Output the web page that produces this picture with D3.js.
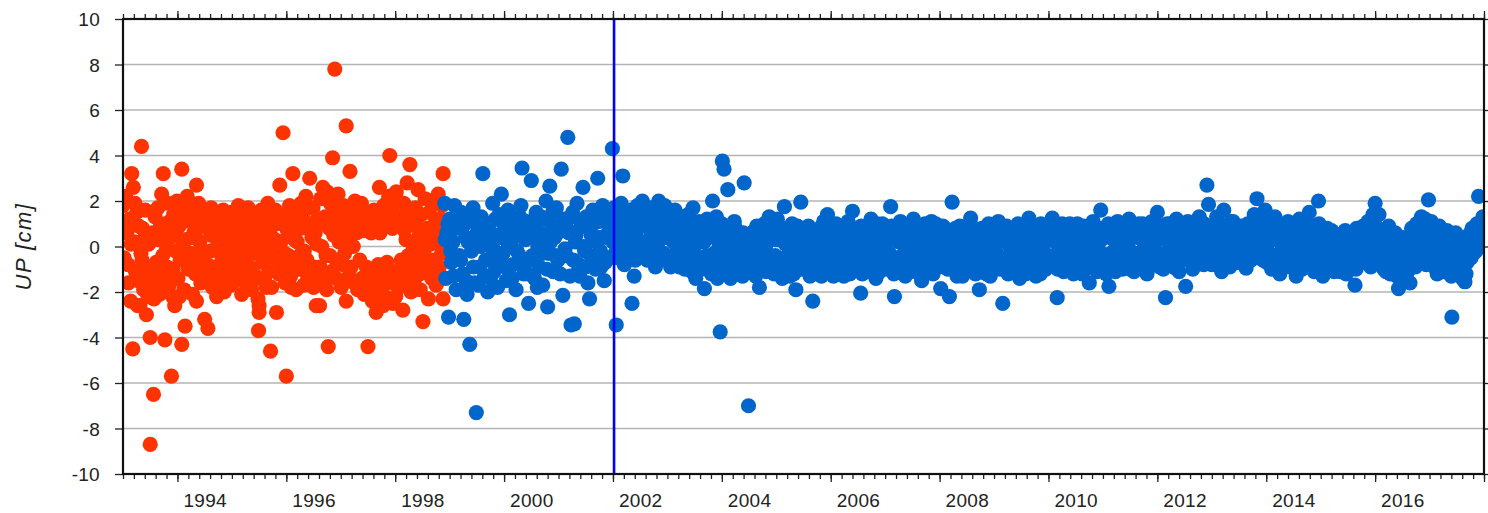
<!DOCTYPE html>
<html><head><meta charset="utf-8">
<script src="https://cdn.jsdelivr.net/npm/d3@7"></script>
<style>body{margin:0;background:#fff}svg{display:block}text{font-family:"Liberation Sans",Arial,sans-serif}</style>
</head><body><svg id="c" width="1488" height="513"></svg>
<script>
// ---- data (decimal year, UP in cm) ----
const redSeries = [
[1993.00,1.8],[1993.02,-0.5],[1993.05,2.2],[1993.07,0.6],[1993.10,-1.6],[1993.12,1.2],[1993.14,-2.4],[1993.16,3.2],[1993.18,-4.5],[1993.19,2.6],
[1993.21,0.2],[1993.23,-1.1],[1993.25,1.5],[1993.27,-2.6],[1993.29,0.9],[1993.31,-2.6],[1993.33,-0.3],[1993.34,4.4],[1993.36,0.8],[1993.38,-1.9],
[1993.40,0.4],[1993.42,-0.9],[1993.43,-3.0],[1993.45,-1.4],[1993.47,0.1],[1993.50,-4.0],[1993.50,-8.7],[1993.52,-1.8],[1993.54,0.6],[1993.56,-6.5],
[1993.57,-2.3],[1993.59,1.3],[1993.61,-0.7],[1993.63,-1.5],[1993.65,0.3],[1993.67,-2.1],[1993.69,1.0],[1993.71,2.3],[1993.73,-0.4],[1993.74,3.2],
[1993.76,-1.2],[1993.77,-4.1],[1993.79,0.7],[1993.81,-0.9],[1993.83,1.9],[1993.85,-1.7],[1993.87,0.4],[1993.89,-5.7],[1993.91,-2.2],[1993.93,1.4],
[1993.95,-2.6],[1993.97,-0.2],[1993.99,2.0],[1994.01,-1.4],[1994.03,0.9],[1994.05,-0.6],[1994.08,3.4],[1994.08,-4.3],[1994.10,1.6],[1994.12,-1.9],
[1994.14,-3.5],[1994.16,0.3],[1994.18,2.2],[1994.20,-1.0],[1994.22,1.1],[1994.24,-0.3],[1994.26,1.8],[1994.28,-2.1],[1994.30,0.6],[1994.32,1.3],
[1994.35,2.7],[1994.35,-2.4],[1994.37,-0.8],[1994.39,1.9],[1994.41,0.2],[1994.43,-1.6],[1994.45,1.5],[1994.47,-0.5],[1994.50,-3.2],[1994.52,0.9],
[1994.54,-1.3],[1994.56,-3.6],[1994.58,1.2],[1994.60,-0.2],[1994.62,1.7],[1994.64,-1.8],[1994.66,0.5],[1994.68,-0.9],[1994.70,1.4],[1994.72,-2.2],
[1994.74,0.1],[1994.76,1.0],[1994.78,-1.4],[1994.80,0.7],[1994.82,-0.6],[1994.84,1.6],[1994.86,-2.0],[1994.88,0.3],[1994.90,-1.1],[1994.92,1.2],
[1994.94,-0.4],[1994.96,0.8],[1994.98,-1.7],[1995.00,1.5],[1995.02,-0.8],[1995.04,0.4],[1995.06,-1.5],[1995.08,1.1],[1995.10,-0.1],[1995.12,1.8],
[1995.14,-1.2],[1995.16,0.6],[1995.18,-2.1],[1995.20,0.9],[1995.22,-0.5],[1995.24,1.3],[1995.26,-1.6],[1995.28,0.2],[1995.30,1.7],[1995.32,-0.9],
[1995.34,0.5],[1995.36,-1.9],[1995.38,1.0],[1995.40,-0.3],[1995.42,1.4],[1995.44,-1.3],[1995.46,0.7],[1995.48,-2.3],[1995.49,-3.7],[1995.50,-2.6],
[1995.50,-2.9],[1995.52,0.4],[1995.54,1.6],[1995.56,-0.7],[1995.58,0.9],[1995.60,-1.5],[1995.62,1.2],[1995.64,-0.2],[1995.66,1.9],[1995.68,-1.1],
[1995.70,0.6],[1995.71,-4.6],[1995.73,-1.8],[1995.75,1.4],[1995.77,-0.5],[1995.79,0.3],[1995.82,-2.9],[1995.84,1.0],[1995.86,-1.2],[1995.88,2.7],
[1995.90,0.2],[1995.92,-0.9],[1995.94,5.0],[1995.96,1.3],[1995.98,-1.6],[1996.00,-5.7],[1996.02,0.7],[1996.04,-0.4],[1996.06,1.8],[1996.08,-1.3],
[1996.10,0.5],[1996.12,3.2],[1996.14,-0.8],[1996.16,1.1],[1996.18,-1.9],[1996.20,0.2],[1996.22,1.6],[1996.24,-1.0],[1996.26,0.8],[1996.28,-0.3],
[1996.30,1.4],[1996.32,-1.7],[1996.34,0.9],[1996.36,2.2],[1996.38,-0.6],[1996.40,1.0],[1996.43,3.0],[1996.45,-1.4],[1996.47,0.4],[1996.49,1.7],
[1996.51,-0.9],[1996.53,0.6],[1996.55,-2.6],[1996.57,1.2],[1996.59,-1.2],[1996.61,-2.6],[1996.63,2.1],[1996.65,0.0],[1996.67,2.6],[1996.69,-1.5],
[1996.71,1.3],[1996.73,-0.4],[1996.75,2.4],[1996.77,-4.4],[1996.79,0.8],[1996.81,1.9],[1996.83,-1.1],[1996.85,3.9],[1996.87,0.5],[1996.89,7.8],
[1996.91,1.5],[1996.93,-0.7],[1996.95,2.3],[1996.97,0.2],[1996.99,1.1],[1997.01,-1.8],[1997.03,0.9],[1997.05,1.8],[1997.07,-0.3],[1997.10,5.3],
[1997.10,-2.4],[1997.12,1.4],[1997.14,0.4],[1997.17,3.3],[1997.19,-0.9],[1997.21,1.2],[1997.23,0.0],[1997.25,-1.6],[1997.27,1.0],[1997.29,0.6],
[1997.31,-1.9],[1997.33,1.7],[1997.35,-0.6],[1997.37,1.1],[1997.39,-1.4],[1997.41,0.7],[1997.43,-2.1],[1997.45,1.5],[1997.47,-0.9],[1997.50,-4.4],
[1997.52,1.25],[1997.54,-1.7],[1997.56,0.6],[1997.58,-2.4],[1997.60,1.0],[1997.62,-1.2],[1997.65,-2.9],[1997.67,1.4],[1997.69,-0.8],[1997.71,2.6],
[1997.73,-1.9],[1997.75,0.8],[1997.77,-1.4],[1997.79,1.8],[1997.81,-2.2],[1997.83,1.2],[1997.85,-0.7],[1997.88,2.2],[1997.90,4.0],[1997.92,-1.6],
[1997.94,1.6],[1997.96,-2.5],[1997.98,0.9],[1998.00,-1.1],[1998.02,2.4],[1998.05,2.0],[1998.07,-1.8],[1998.09,1.3],[1998.11,-0.6],[1998.14,-2.8],
[1998.16,1.9],[1998.18,-1.3],[1998.20,0.3],[1998.22,2.8],[1998.24,-0.4],[1998.27,3.6],[1998.29,-2.0],[1998.31,1.1],[1998.33,0.0],[1998.35,-1.5],
[1998.37,1.7],[1998.40,-0.8],[1998.42,2.5],[1998.44,0.5],[1998.46,-1.9],[1998.48,1.4],[1998.51,-3.3],[1998.53,-0.2],[1998.55,2.1],[1998.57,-1.1],
[1998.59,0.8],[1998.61,-2.3],[1998.63,1.5],[1998.65,0.1],[1998.67,-1.4],[1998.69,2.0],[1998.71,-0.6],[1998.73,1.0],[1998.75,-1.7],[1998.77,0.4],
[1998.79,2.3],[1998.81,-0.9],[1998.83,1.2],[1998.85,-0.3],[1998.87,0.7],[1998.88,3.2],[1998.88,-2.3]
];
const redSeriesB = [
[1993.03,0.9],[1993.09,-0.8],[1993.15,0.1],[1993.22,1.9],[1993.28,-1.5],[1993.35,-0.6],[1993.41,1.6],[1993.46,-2.2],[1993.53,0.4],[1993.58,-1.0],
[1993.64,1.7],[1993.70,-1.6],[1993.75,0.8],[1993.80,-0.1],[1993.86,1.1],[1993.92,-1.0],[1993.98,0.5],[1994.04,-2.2],[1994.09,0.0],[1994.15,1.3],
[1994.21,-0.6],[1994.27,0.4],[1994.33,-1.2],[1994.38,0.8],[1994.44,-0.2],[1994.49,1.0],[1994.55,-0.8],[1994.61,0.5],[1994.67,-1.5],[1994.73,1.5],
[1994.79,-0.3],[1994.85,0.2],[1994.91,-1.7],[1994.97,1.0],[1995.03,-0.1],[1995.09,0.6],[1995.15,-0.7],[1995.21,1.5],[1995.27,-0.2],[1995.33,0.8],
[1995.39,-1.2],[1995.45,0.1],[1995.51,-1.4],[1995.57,0.2],[1995.63,-1.8],[1995.69,1.0],[1995.74,-0.3],[1995.80,1.6],[1995.85,-0.6],[1995.91,1.2],
[1995.97,-0.3],[1996.03,1.5],[1996.09,-1.8],[1996.15,0.3],[1996.21,-0.5],[1996.27,1.9],[1996.33,-0.2],[1996.39,-1.3],[1996.44,0.7],[1996.50,-1.8],
[1996.56,0.1],[1996.62,-0.9],[1996.68,1.0],[1996.74,-1.9],[1996.80,-0.4],[1996.86,1.3],[1996.92,-1.4],[1996.98,0.6],[1997.04,-0.8],[1997.09,1.6],
[1997.15,-1.3],[1997.20,0.5],[1997.26,2.0],[1997.32,0.9],[1997.38,1.9],[1997.44,-1.7],[1997.49,0.9],[1997.55,-2.0],[1997.61,1.6],[1997.66,-1.5],
[1997.72,0.6],[1997.78,-2.6],[1997.84,1.9],[1997.89,-1.2],[1997.95,0.8],[1998.01,-2.2],[1998.06,1.0],[1998.12,-1.6],[1998.17,0.7],[1998.23,-1.0],
[1998.28,1.5],[1998.34,-0.6],[1998.39,0.9],[1998.45,-1.2],[1998.50,0.3],[1998.56,-0.5],[1998.62,0.6],[1998.68,-1.0],[1998.74,0.2],[1998.80,-1.5],
[1998.86,1.8]
];
const blueSeries = [
[1998.91,1.9],[1998.93,-1.4],[1998.95,0.6],[1998.98,-3.1],[1999.00,1.2],[1999.03,-0.7],[1999.06,0.2],[1999.09,1.8],[1999.12,-1.9],[1999.15,0.9],
[1999.18,-0.4],[1999.21,1.5],[1999.24,-1.2],[1999.26,-3.2],[1999.29,0.4],[1999.32,-2.1],[1999.35,1.1],[1999.37,-4.3],[1999.40,-0.2],[1999.43,1.7],
[1999.46,-1.6],[1999.49,-7.3],[1999.52,0.7],[1999.55,-0.9],[1999.58,1.3],[1999.61,3.2],[1999.64,-1.3],[1999.67,0.3],[1999.70,-2.0],[1999.73,1.0],
[1999.76,-0.5],[1999.79,1.9],[1999.82,-1.1],[1999.85,0.5],[1999.88,-1.8],[1999.91,1.4],[1999.95,2.3],[1999.98,-0.3],[2000.01,0.8],[2000.04,-1.5],
[2000.07,1.6],[2000.10,-3.0],[2000.13,0.1],[2000.16,-0.8],[2000.19,1.2],[2000.22,-1.9],[2000.25,0.6],[2000.28,-0.4],[2000.31,1.8],[2000.33,3.45],
[2000.36,-1.2],[2000.39,0.3],[2000.42,1.1],[2000.45,-2.5],[2000.48,-0.6],[2000.50,2.9],[2000.53,0.9],[2000.56,-1.4],[2000.59,1.5],[2000.62,0.0],
[2000.65,-0.9],[2000.68,1.3],[2000.71,-1.7],[2000.74,0.5],[2000.77,2.0],[2000.80,-2.65],[2000.82,-0.3],[2000.84,2.65],[2000.87,1.0],[2000.90,-1.1],
[2000.93,0.4],[2000.96,1.7],[2000.99,-0.6],[2001.02,0.8],[2001.05,3.4],[2001.08,-2.15],[2001.11,1.2],[2001.14,-0.4],[2001.17,4.8],[2001.19,0.6],
[2001.21,-1.3],[2001.23,-3.45],[2001.26,1.5],[2001.29,-3.4],[2001.31,0.2],[2001.34,1.9],[2001.37,-0.8],[2001.39,-1.3],[2001.42,0.9],[2001.45,2.6],
[2001.48,-0.2],[2001.51,1.3],[2001.54,-1.6],[2001.57,-2.3],[2001.60,0.5],[2001.63,1.6],[2001.66,-0.7],[2001.69,0.2],[2001.72,3.0],[2001.75,1.1],
[2001.78,-0.9],[2001.81,1.8],[2001.84,-1.5],[2001.87,0.4],[2001.90,1.4],[2001.93,-0.5],[2001.96,0.9],[2001.99,4.3],[2002.02,1.7],[2002.04,-0.3],
[2002.06,-3.45],[2002.09,1.2],[2002.12,0.1],[2002.15,1.9],[2002.18,3.1],[2002.21,-0.8],[2002.24,0.7],[2002.27,1.5],[2002.30,-0.1],[2002.33,1.0],
[2002.35,-2.5],[2002.39,-1.3],[2002.42,0.5],[2002.45,1.8],[2002.48,-0.4],[2002.51,0.9],[2002.54,2.0],[2002.57,0.2],[2002.60,1.3],[2002.63,-0.6],
[2002.66,0.8],[2002.69,1.7],[2002.72,0.0],[2002.75,1.2],[2002.78,-0.9],[2002.81,0.6],[2002.84,2.0],[2002.87,0.3],[2002.90,1.0],[2002.93,-0.3],
[2002.96,1.5],[2002.99,0.4],[2003.02,-0.5],[2003.06,-0.9],[2003.08,1.1],[2003.11,0.2],[2003.14,1.6],[2003.17,-0.7],[2003.20,0.6],[2003.23,1.3],
[2003.26,-0.2],[2003.29,0.9],[2003.32,-1.0],[2003.35,0.3],[2003.38,1.4],[2003.41,-0.6],[2003.44,0.7],[2003.47,1.7],[2003.50,0.0],[2003.52,-1.4],
[2003.55,0.5],[2003.58,1.1],[2003.61,-0.5],[2003.64,0.8],[2003.68,-1.85],[2003.70,0.3],[2003.73,1.2],[2003.76,-0.8],[2003.79,0.6],[2003.83,2.0],
[2003.86,-0.3],[2003.89,0.9],[2003.92,-1.4],[2003.95,0.1],[2003.97,-3.75],[2004.00,1.0],[2004.01,3.75],[2004.04,3.4],[2004.06,-0.6],[2004.09,0.4],
[2004.11,2.5],[2004.14,-1.0],[2004.17,0.7],[2004.20,-0.3],[2004.23,1.1],[2004.26,-1.2],[2004.29,0.2],[2004.32,-0.7],[2004.35,0.5],[2004.38,-1.3],
[2004.41,2.8],[2004.44,-0.4],[2004.47,0.3],[2004.49,-7.0],[2004.52,-1.0],[2004.55,0.6],[2004.58,-0.8],[2004.61,0.0],[2004.64,0.9],[2004.67,-0.6],
[2004.69,-1.8],[2004.72,0.4],[2004.75,-0.3],[2004.78,1.0],[2004.81,-1.1],[2004.84,0.2],[2004.87,1.3],[2004.90,-0.5],[2004.93,0.8],[2004.96,-1.2],
[2004.99,0.3],[2005.02,1.2],[2005.05,-0.7],[2005.08,0.5],[2005.11,-1.4],[2005.15,1.75],[2005.17,0.1],[2005.20,-0.9],[2005.23,0.7],[2005.26,-0.2],
[2005.29,1.0],[2005.32,-1.2],[2005.36,-1.9],[2005.38,0.4],[2005.41,-0.6],[2005.45,1.95],[2005.47,0.6],[2005.50,-1.0],[2005.53,0.2],[2005.56,-0.5],
[2005.59,0.9],[2005.62,-1.3],[2005.67,-2.4],[2005.69,0.0],[2005.72,-0.8],[2005.75,0.6],[2005.78,-1.1],[2005.81,0.3],[2005.84,-0.4],[2005.87,1.1],
[2005.90,-0.9],[2005.94,1.4],[2005.96,0.2],[2005.99,-0.6],[2006.02,0.8],[2006.05,-1.3],[2006.08,0.1],[2006.11,-0.7],[2006.14,0.9],[2006.17,-0.2],
[2006.20,0.5],[2006.23,-1.0],[2006.26,0.3],[2006.29,-0.5],[2006.32,1.1],[2006.35,-1.2],[2006.40,1.55],[2006.41,0.0],[2006.44,-0.8],[2006.47,0.6],
[2006.50,-0.3],[2006.55,-2.05],[2006.56,0.9],[2006.59,-0.6],[2006.62,0.2],[2006.65,-1.1],[2006.68,0.7],[2006.71,-0.4],[2006.74,1.2],[2006.77,-0.9],
[2006.80,0.4],[2006.83,-1.4],[2006.86,0.0],[2006.89,0.8],[2006.92,-0.7],[2006.95,1.0],[2006.98,-0.2],[2007.01,0.5],[2007.04,-1.0],[2007.07,0.3],
[2007.10,1.75],[2007.13,-0.5],[2007.17,-2.2],[2007.19,0.8],[2007.22,-0.9],[2007.25,0.2],[2007.28,1.1],[2007.31,-0.4],[2007.34,0.6],[2007.37,-1.3],
[2007.40,0.1],[2007.43,-0.7],[2007.46,0.9],[2007.49,-0.2],[2007.52,1.2],[2007.55,-1.1],[2007.58,0.4],[2007.61,-0.5],[2007.64,0.7],[2007.67,-1.5],
[2007.70,0.2],[2007.73,1.0],[2007.76,-0.8],[2007.79,0.5],[2007.82,-0.3],[2007.85,1.1],[2007.88,-1.2],[2007.91,0.3],[2007.94,-0.6],[2007.97,0.8],
[2008.02,-1.85],[2008.03,0.0],[2008.06,0.9],[2008.09,-0.7],[2008.12,0.4],[2008.15,-1.0],[2008.18,-2.2],[2008.21,0.6],[2008.23,1.95],[2008.26,-0.3],
[2008.29,0.8],[2008.32,-1.3],[2008.35,0.1],[2008.38,-0.6],[2008.41,0.7],[2008.44,-1.1],[2008.47,0.3],[2008.50,-0.4],[2008.53,0.9],[2008.57,1.25],
[2008.60,-0.8],[2008.63,0.2],[2008.66,-1.2],[2008.69,0.5],[2008.73,-1.9],[2008.75,-0.2],[2008.78,0.8],[2008.81,-1.0],[2008.84,0.4],[2008.87,-0.5],
[2008.90,1.0],[2008.93,-1.3],[2008.96,0.1],[2008.99,-0.7],[2009.02,0.6],[2009.05,-0.3],[2009.08,1.1],[2009.11,-1.0],[2009.16,-2.5],[2009.17,0.3],
[2009.20,-0.6],[2009.23,0.9],[2009.26,-1.2],[2009.29,0.0],[2009.32,0.7],[2009.35,-0.9],[2009.38,0.4],[2009.41,-0.4],[2009.44,1.0],[2009.47,-1.4],
[2009.50,0.2],[2009.53,-0.7],[2009.56,0.8],[2009.59,-0.2],[2009.64,1.25],[2009.65,-1.1],[2009.68,0.5],[2009.71,-0.5],[2009.74,0.9],[2009.77,-1.3],
[2009.80,0.1],[2009.83,-0.6],[2009.86,1.0],[2009.89,-0.3],[2009.92,0.6],[2009.95,-1.0],[2009.98,0.3],[2010.01,-0.5],[2010.04,0.8],[2010.07,1.25],
[2010.10,-0.8],[2010.13,0.2],[2010.16,-2.25],[2010.19,0.7],[2010.22,-0.4],[2010.25,1.0],[2010.28,-1.1],[2010.31,0.3],[2010.34,-0.6],[2010.37,0.9],
[2010.40,-0.2],[2010.43,0.5],[2010.46,-1.2],[2010.49,0.1],[2010.53,1.0],[2010.55,-0.7],[2010.58,0.6],[2010.61,-0.3],[2010.64,0.9],[2010.67,-1.0],
[2010.70,0.2],[2010.75,-1.6],[2010.76,0.7],[2010.79,-0.5],[2010.82,1.1],[2010.85,-0.1],[2010.88,0.4],[2010.91,-0.9],[2010.96,1.6],[2010.97,0.3],
[2011.00,-0.6],[2011.03,0.8],[2011.06,-1.2],[2011.11,-1.75],[2011.12,0.5],[2011.15,-0.3],[2011.18,0.9],[2011.21,-0.8],[2011.24,0.2],[2011.27,1.1],
[2011.30,-0.5],[2011.33,0.6],[2011.36,-1.0],[2011.39,0.0],[2011.42,0.8],[2011.45,-0.6],[2011.48,1.2],[2011.51,-0.2],[2011.54,0.4],[2011.57,-1.1],
[2011.60,0.7],[2011.63,-0.4],[2011.66,1.0],[2011.69,-0.8],[2011.72,0.3],[2011.75,-0.1],[2011.78,0.9],[2011.81,-1.2],[2011.84,0.5],[2011.87,-0.5],
[2011.90,1.1],[2011.93,0.1],[2011.96,-0.7],[2012.00,1.5],[2012.02,0.6],[2012.05,-0.4],[2012.08,0.9],[2012.11,-1.0],[2012.15,-2.25],[2012.17,0.3],
[2012.20,-0.6],[2012.23,1.0],[2012.26,-0.2],[2012.29,0.6],[2012.33,-0.95],[2012.35,1.2],[2012.38,0.0],[2012.41,-0.7],[2012.44,0.8],[2012.47,-0.3],
[2012.52,-1.75],[2012.53,0.5],[2012.56,1.1],[2012.59,-0.5],[2012.62,0.3],[2012.65,-1.0],[2012.68,0.9],[2012.71,-0.2],[2012.74,0.6],[2012.77,1.3],
[2012.80,-0.6],[2012.83,0.2],[2012.86,1.0],[2012.91,2.7],[2012.92,-0.4],[2012.94,1.85],[2012.97,0.4],[2013.00,-0.8],[2013.03,0.9],[2013.06,0.1],
[2013.09,1.3],[2013.12,-0.5],[2013.15,0.7],[2013.18,-1.1],[2013.22,1.6],[2013.24,0.3],[2013.27,-0.3],[2013.30,0.8],[2013.33,-0.9],[2013.36,0.5],
[2013.39,1.1],[2013.42,-0.2],[2013.45,0.6],[2013.48,-0.7],[2013.51,0.2],[2013.54,0.9],[2013.57,-0.4],[2013.60,0.4],[2013.63,-0.95],[2013.66,1.0],
[2013.69,0.0],[2013.72,-0.6],[2013.75,0.7],[2013.78,1.4],[2013.80,-0.3],[2013.83,2.1],[2013.86,0.8],[2013.89,-0.5],[2013.92,1.2],[2013.95,0.2],
[2013.98,1.6],[2014.01,-0.7],[2014.04,0.5],[2014.07,1.0],[2014.10,-1.0],[2014.13,0.3],[2014.16,1.3],[2014.19,-0.4],[2014.22,0.7],[2014.25,-1.2],
[2014.28,0.1],[2014.31,0.9],[2014.34,-0.6],[2014.37,0.4],[2014.40,1.1],[2014.43,-0.9],[2014.46,0.2],[2014.49,-0.3],[2014.52,0.8],[2014.55,-1.3],
[2014.58,0.5],[2014.61,1.2],[2014.64,-0.5],[2014.67,0.0],[2014.70,0.9],[2014.73,-0.8],[2014.76,0.4],[2014.79,1.5],[2014.82,-0.2],[2014.85,0.7],
[2014.88,-1.1],[2014.91,0.3],[2014.96,2.0],[2014.97,1.0],[2015.00,-0.6],[2015.04,-1.3],[2015.06,0.5],[2015.09,-0.4],[2015.12,0.8],[2015.15,-1.0],
[2015.18,0.2],[2015.21,-0.3],[2015.24,0.6],[2015.27,-0.8],[2015.30,0.0],[2015.33,0.4],[2015.36,-1.1],[2015.39,0.3],[2015.42,-0.5],[2015.45,0.7],
[2015.48,-0.2],[2015.51,0.5],[2015.54,-0.9],[2015.57,0.1],[2015.60,-0.4],[2015.63,-1.7],[2015.66,0.8],[2015.69,-0.6],[2015.72,0.3],[2015.75,-0.1],
[2015.78,0.9],[2015.81,-0.7],[2015.84,0.4],[2015.87,1.1],[2015.90,-0.5],[2015.93,0.6],[2015.96,1.4],[2016.00,1.9],[2016.02,-0.3],[2016.05,0.7],
[2016.07,1.4],[2016.10,-0.8],[2016.13,0.2],[2016.16,-1.0],[2016.19,0.5],[2016.22,-0.4],[2016.25,0.9],[2016.28,-1.2],[2016.31,0.0],[2016.34,-0.6],
[2016.37,0.6],[2016.40,-1.3],[2016.43,-1.85],[2016.46,-0.2],[2016.49,0.4],[2016.52,-0.9],[2016.55,-1.5],[2016.58,0.3],[2016.61,-0.5],[2016.64,-1.6],
[2016.67,0.8],[2016.70,-0.7],[2016.73,0.2],[2016.76,1.0],[2016.79,-0.4],[2016.82,0.6],[2016.85,1.3],[2016.88,-0.1],[2016.91,0.9],[2016.94,-0.8],
[2016.98,2.05],[2017.00,0.4],[2017.03,1.1],[2017.06,-0.5],[2017.09,0.7],[2017.12,-1.0],[2017.15,0.3],[2017.18,0.9],[2017.21,-0.6],[2017.24,0.1],
[2017.27,-1.1],[2017.30,0.5],[2017.33,-0.3],[2017.36,-0.9],[2017.41,-3.1],[2017.42,0.2],[2017.45,-0.6],[2017.48,0.6],[2017.51,-1.2],[2017.54,0.0],
[2017.57,-0.4],[2017.60,-1.4],[2017.65,-1.55],[2017.66,0.3],[2017.69,-0.7],[2017.72,0.5],[2017.75,0.0],[2017.78,0.8],[2017.81,-0.3],[2017.84,0.6],
[2017.87,1.0],[2017.90,2.2],[2017.93,0.3],[2017.96,0.9],[2017.99,0.1]
];
const blueSeriesB = [
[1998.92,0.3],[1998.97,1.0],[1999.02,-0.2],[1999.07,-1.3],[1999.11,0.8],[1999.16,1.4],[1999.20,-0.6],[1999.25,0.9],[1999.30,-1.5],[1999.34,0.2],
[1999.39,1.2],[1999.44,-0.9],[1999.48,0.5],[1999.53,-1.7],[1999.57,0.0],[1999.62,1.0],[1999.66,-0.6],[1999.71,0.6],[1999.75,-1.4],[1999.80,-0.1],
[1999.84,1.2],[1999.89,-0.8],[1999.93,0.4],[1999.97,1.1],[2000.02,-0.9],[2000.06,0.2],[2000.11,1.0],[2000.15,-1.4],[2000.20,0.5],[2000.24,-0.2],
[2000.29,1.3],[2000.34,-0.7],[2000.38,0.8],[2000.43,-1.2],[2000.47,0.4],[2000.52,-0.4],[2000.57,1.0],[2000.61,-1.8],[2000.66,0.6],[2000.70,-0.3],
[2000.75,1.2],[2000.79,-1.0],[2000.85,0.2],[2000.89,1.5],[2000.94,-0.4],[2000.98,0.6],[2001.03,-1.2],[2001.07,1.0],[2001.12,-0.1],[2001.16,0.8],
[2001.22,1.3],[2001.27,-0.6],[2001.32,0.5],[2001.36,-1.1],[2001.41,1.1],[2001.46,0.0],[2001.50,-0.9],[2001.55,0.8],[2001.59,-0.4],[2001.64,1.0],
[2001.68,-1.0],[2001.73,0.4],[2001.77,-0.2],[2001.82,1.2],[2001.86,-0.7],[2001.91,0.6],[2001.95,1.6],[2002.00,0.2],[2002.05,0.9],[2002.10,-0.5],
[2002.14,0.6],[2002.19,1.3],[2002.23,-0.2],[2002.28,0.4],[2002.32,1.6],[2002.37,0.8],[2002.41,-0.6],[2002.46,1.1],[2002.50,0.1],[2002.55,1.4],
[2002.59,-0.3],[2002.64,1.0],[2002.68,0.3],[2002.73,1.6],[2002.77,-0.4],[2002.82,1.1],[2002.86,-0.6],[2002.91,0.5],[2002.95,1.8],[2003.00,0.7],
[2003.04,1.3],[2003.09,-0.4],[2003.13,0.4],[2003.18,1.0],[2003.22,-0.9],[2003.27,0.5],[2003.31,1.2],[2003.36,-0.3],[2003.40,0.8],[2003.45,-1.1],
[2003.49,0.3],[2003.54,-0.6],[2003.59,0.9],[2003.63,-1.0],[2003.67,0.2],[2003.72,-0.4],[2003.77,1.0],[2003.81,-1.2],[2003.85,0.5],[2003.90,1.3],
[2003.94,-0.8],[2003.99,0.4],[2004.03,-1.1],[2004.08,0.9],[2004.12,-0.2],[2004.16,-1.4],[2004.21,0.2],[2004.25,0.8],[2004.30,-0.9],[2004.34,-0.3],
[2004.39,0.6],[2004.43,-1.1],[2004.48,0.0],[2004.53,-0.5],[2004.57,0.5],[2004.62,-1.3],[2004.66,0.3],[2004.71,-0.8],[2004.76,0.6],[2004.80,-0.1],
[2004.85,-0.9],[2004.89,0.5],[2004.94,1.1],[2004.98,-0.4],[2005.03,0.3],[2005.07,-1.1],[2005.12,0.8],[2005.16,-0.5],[2005.21,0.2],[2005.25,-1.3],
[2005.30,0.5],[2005.34,-0.2],[2005.39,0.9],[2005.43,-1.0],[2005.48,0.1],[2005.52,-0.7],[2005.57,0.6],[2005.61,-0.2],[2005.66,-1.1],[2005.70,0.4],
[2005.74,-0.5],[2005.79,0.8],[2005.83,-1.3],[2005.88,0.0],[2005.92,0.6],[2005.97,-1.0],[2006.01,0.3],[2006.06,-0.4],[2006.10,1.0],[2006.15,-0.8],
[2006.19,0.1],[2006.24,-1.3],[2006.28,0.6],[2006.33,-0.2],[2006.37,0.7],[2006.42,-1.0],[2006.46,0.3],[2006.51,-0.9],[2006.54,0.5],[2006.58,-1.2],
[2006.63,0.0],[2006.67,0.8],[2006.72,-0.7],[2006.76,0.4],[2006.81,-0.3],[2006.85,1.0],[2006.90,-1.1],[2006.94,0.2],[2006.99,-0.6],[2007.03,0.7],
[2007.08,-0.3],[2007.12,0.9],[2007.16,-1.2],[2007.21,0.3],[2007.26,-0.6],[2007.30,0.6],[2007.35,-0.9],[2007.39,0.4],[2007.44,-0.2],[2007.48,0.8],
[2007.53,-0.6],[2007.57,0.0],[2007.62,-1.0],[2007.66,0.5],[2007.71,-0.4],[2007.75,0.3],[2007.80,-1.1],[2007.84,0.6],[2007.89,-0.2],[2007.93,1.0],
[2007.98,-0.9],[2008.01,0.4],[2008.05,-0.5],[2008.10,0.8],[2008.14,-0.3],[2008.19,0.3],[2008.24,-0.8],[2008.28,0.5],[2008.33,-0.1],[2008.37,0.9],
[2008.42,-1.3],[2008.46,0.0],[2008.51,-0.6],[2008.55,0.5],[2008.59,-0.2],[2008.64,0.8],[2008.68,-1.0],[2008.72,0.3],[2008.77,-0.5],[2008.82,0.6],
[2008.86,-1.2],[2008.91,0.2],[2008.95,-0.4],[2009.00,0.9],[2009.04,-0.8],[2009.09,0.2],[2009.13,-0.5],[2009.18,0.7],[2009.22,-1.0],[2009.27,0.4],
[2009.31,-0.3],[2009.36,0.8],[2009.40,-1.1],[2009.45,0.1],[2009.49,-0.5],[2009.54,0.5],[2009.58,-1.2],[2009.63,0.3],[2009.67,-0.2],[2009.72,0.9],
[2009.76,-0.7],[2009.81,0.4],[2009.85,-1.2],[2009.90,0.0],[2009.94,0.7],[2009.99,-0.8],[2010.03,0.3],[2010.08,-0.4],[2010.12,0.9],[2010.17,-1.0],
[2010.21,0.1],[2010.26,-0.6],[2010.30,0.6],[2010.35,-0.2],[2010.39,1.0],[2010.44,-0.9],[2010.48,0.4],[2010.52,-0.4],[2010.57,0.2],[2010.62,-1.2],
[2010.66,0.6],[2010.71,-0.6],[2010.74,0.9],[2010.80,-0.2],[2010.84,0.5],[2010.89,-1.1],[2010.93,0.8],[2010.98,-0.3],[2011.02,0.4],[2011.07,-0.8],
[2011.10,1.0],[2011.14,-0.4],[2011.19,0.3],[2011.23,-1.1],[2011.28,0.6],[2011.32,-0.2],[2011.37,0.9],[2011.41,-0.6],[2011.46,0.2],[2011.50,-1.0],
[2011.55,0.7],[2011.59,-0.3],[2011.64,0.4],[2011.68,-0.9],[2011.73,1.0],[2011.77,-0.4],[2011.82,0.2],[2011.86,-0.8],[2011.91,0.6],[2011.95,-0.2],
[2012.01,0.3],[2012.04,-0.9],[2012.09,0.5],[2012.13,-0.3],[2012.18,1.0],[2012.22,-0.7],[2012.27,0.2],[2012.31,-0.4],[2012.36,0.7],[2012.40,-1.1],
[2012.45,0.4],[2012.49,-0.5],[2012.54,0.9],[2012.58,0.0],[2012.63,-0.7],[2012.67,0.5],[2012.72,-0.3],[2012.76,1.0],[2012.81,0.1],[2012.85,-0.8],
[2012.90,0.6],[2012.95,-0.1],[2012.99,0.8],[2013.04,-0.5],[2013.08,0.4],[2013.13,1.0],[2013.17,-0.2],[2013.21,0.6],[2013.26,-0.7],[2013.31,0.3],
[2013.35,1.1],[2013.40,-0.4],[2013.44,0.5],[2013.49,-0.1],[2013.53,0.8],[2013.58,-0.6],[2013.62,0.2],[2013.67,0.9],[2013.71,-0.3],[2013.76,0.4],
[2013.81,1.1],[2013.85,-0.1],[2013.90,0.6],[2013.94,-0.6],[2013.99,0.5],[2014.03,-0.2],[2014.08,0.8],[2014.12,-0.6],[2014.17,0.4],[2014.21,1.0],
[2014.26,-0.3],[2014.30,0.6],[2014.35,-0.8],[2014.39,0.2],[2014.44,0.9],[2014.48,-0.6],[2014.53,0.3],[2014.57,-0.2],[2014.62,0.7],[2014.66,-1.0],
[2014.71,0.4],[2014.75,1.1],[2014.80,-0.5],[2014.84,0.3],[2014.89,-0.4],[2014.93,0.8],[2014.98,-0.3],[2015.02,0.3],[2015.07,-0.8],[2015.11,0.1],
[2015.16,-0.5],[2015.20,0.7],[2015.25,-1.1],[2015.29,-0.2],[2015.34,0.5],[2015.38,-0.7],[2015.43,0.2],[2015.47,-1.2],[2015.52,0.0],[2015.56,-0.6],
[2015.61,0.5],[2015.65,-1.0],[2015.70,0.2],[2015.74,-0.5],[2015.79,0.6],[2015.83,-0.2],[2015.88,0.8],[2015.92,-0.9],[2015.97,0.3],[2016.01,0.9],
[2016.06,-0.5],[2016.11,0.6],[2016.15,-0.2],[2016.20,-1.1],[2016.24,0.3],[2016.29,-0.7],[2016.33,0.5],[2016.38,-0.9],[2016.42,-0.3],[2016.47,-1.2],
[2016.51,0.2],[2016.56,-0.6],[2016.60,-1.1],[2016.65,-0.2],[2016.69,0.5],[2016.74,-0.9],[2016.78,0.7],[2016.83,-0.3],[2016.87,0.4],[2016.92,1.2],
[2016.96,0.2],[2017.01,-0.6],[2017.05,0.8],[2017.10,-0.2],[2017.14,-1.2],[2017.19,0.4],[2017.23,-0.8],[2017.28,0.1],[2017.32,0.7],[2017.37,-0.5],
[2017.40,-1.3],[2017.44,0.3],[2017.49,-0.2],[2017.53,-0.9],[2017.58,0.4],[2017.62,-0.7],[2017.67,-1.2],[2017.71,0.1],[2017.76,-0.5],[2017.80,0.4],
[2017.85,-0.2],[2017.89,0.8],[2017.94,0.5],[2017.98,1.3]
];
const eventYear = 2002.02;
const yTickValues = [-10,-8,-6,-4,-2,0,2,4,6,8,10];
const xLabelYears = [1994,1996,1998,2000,2002,2004,2006,2008,2010,2012,2014,2016];
const xDomain = [1993, 2018];
const yDomain = [-10, 10];
const yAxisTitle = "UP [cm]";

// ---- drawing ----
const svg = d3.select("#c");
const L = 123, R = 1484, T = 19, B = 474;
const x = d3.scaleLinear().domain(xDomain).range([L, R]);
const y = d3.scaleLinear().domain(yDomain).range([B, T]);
const FONT = "Liberation Sans, Arial, sans-serif";

svg.append("defs").append("clipPath").attr("id","clip")
  .append("rect").attr("x",L).attr("y",T).attr("width",R-L).attr("height",B-T);

// gridlines
svg.append("g").selectAll("line").data(yTickValues.filter(v => v > yDomain[0] && v < yDomain[1]))
  .join("line").attr("x1",L).attr("x2",R).attr("y1",d=>y(d)).attr("y2",d=>y(d))
  .attr("stroke","#b4b4b4").attr("stroke-width",1.6);

const plot = svg.append("g").attr("clip-path","url(#clip)");
const redAll = redSeries.concat(redSeriesB);
const blueAll = blueSeries.concat(blueSeriesB);
plot.append("g").selectAll("circle").data(redAll).join("circle")
  .attr("cx",d=>x(d[0])).attr("cy",d=>y(d[1])).attr("r",7.6).attr("fill","#ff3300");
plot.append("g").selectAll("circle").data(blueAll).join("circle")
  .attr("cx",d=>x(d[0])).attr("cy",d=>y(d[1])).attr("r",7.6).attr("fill","#0066cc");
plot.append("line").attr("x1",x(eventYear)).attr("x2",x(eventYear)).attr("y1",T).attr("y2",B)
  .attr("stroke","#0000ff").attr("stroke-width",2.6);

// axes ticks
const minorTicks = d3.range(0, (xDomain[1]-xDomain[0])*5 + 1).map(i => xDomain[0] + i*0.2);
const majorTicks = d3.range(xDomain[0]+1, xDomain[1]+0.001, 2);

const axB = d3.axisBottom(x).tickValues(minorTicks).tickSize(5).tickFormat("");
const axT = d3.axisTop(x).tickValues(minorTicks).tickSize(5).tickFormat("");
const axBM = d3.axisBottom(x).tickValues(majorTicks).tickSize(8).tickFormat("");
const axTM = d3.axisTop(x).tickValues(majorTicks).tickSize(8).tickFormat("");
[[axB,B],[axBM,B],[axT,T],[axTM,T]].forEach(([a,pos]) => {
  const g = svg.append("g").attr("transform",`translate(0,${pos})`).call(a);
  g.select(".domain").remove();
  g.selectAll("line").attr("stroke","#222").attr("stroke-width",1.3);
});

// x labels centred inside each labelled year
const axL = d3.axisBottom(x).tickValues(xLabelYears.map(v => v + 0.5)).tickSize(0)
  .tickFormat((d) => String(Math.round(d - 0.5)));
const gl = svg.append("g").attr("transform",`translate(0,${B})`).call(axL);
gl.select(".domain").remove();
gl.selectAll("text").attr("dy",0).attr("y",33).attr("font-size",19).attr("letter-spacing",0.3)
  .attr("fill","#222").attr("font-family",FONT);

// y axes
const ayL = d3.axisLeft(y).tickValues(yTickValues).tickSize(8).tickPadding(15).tickFormat(d => String(d));
const gy = svg.append("g").attr("transform",`translate(${L},0)`).call(ayL);
gy.select(".domain").remove();
gy.selectAll("line").attr("stroke","#222").attr("stroke-width",1.3);
gy.selectAll("text").attr("font-size",19).attr("letter-spacing",0.3).attr("fill","#222")
  .attr("font-family",FONT).attr("dy","0.36em");
const ayR = d3.axisRight(y).tickValues(yTickValues).tickSize(5).tickFormat("");
const gyr = svg.append("g").attr("transform",`translate(${R},0)`).call(ayR);
gyr.select(".domain").remove();
gyr.selectAll("line").attr("stroke","#222").attr("stroke-width",1.3);

// frame
svg.append("rect").attr("x",L).attr("y",T).attr("width",R-L).attr("height",B-T)
  .attr("fill","none").attr("stroke","#111").attr("stroke-width",2.2);

// y title
svg.append("text").attr("transform",`translate(31,${(T+B)/2}) rotate(-90)`)
  .attr("text-anchor","middle").attr("font-size",22).attr("font-style","italic")
  .attr("letter-spacing",1.5).attr("fill","#222").attr("font-family",FONT).text(yAxisTitle);
</script></body></html>
